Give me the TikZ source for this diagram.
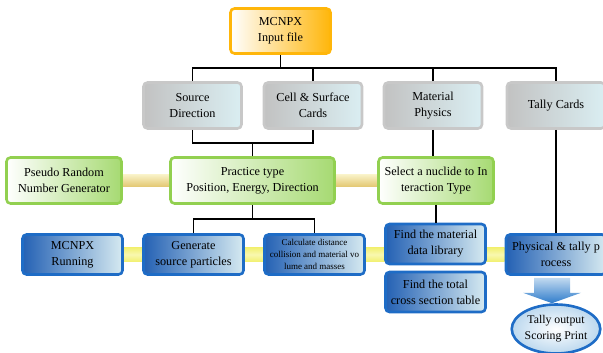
\documentclass[tikz,border=0pt]{standalone}
\usepackage{fontspec}
\setmainfont{Liberation Serif}
\usetikzlibrary{calc,backgrounds,shapes.geometric}
\definecolor{orangeB}{HTML}{FFB60A}
\definecolor{grayB}{HTML}{C8C8C8}
\definecolor{grayL}{HTML}{C2C2C2}
\definecolor{grayR}{HTML}{DAEEF2}
\definecolor{greenB}{HTML}{92D050}
\definecolor{greenR}{HTML}{A6DA72}
\definecolor{blueB}{HTML}{1E6CC6}
\definecolor{blueL}{HTML}{2461B4}
\definecolor{blueR}{HTML}{D6EAF1}
\definecolor{barT}{HTML}{F9F2C8}
\definecolor{barB}{HTML}{E3C872}
\definecolor{ybarT}{HTML}{F2F070}
\definecolor{ybarM}{HTML}{F8F8B0}
\definecolor{arrT}{HTML}{C2DAF0}
\definecolor{arrB}{HTML}{2F7CCB}
\definecolor{ellO}{HTML}{BCD8EE}
\begin{document}
\begin{tikzpicture}[x=1pt,y=-1pt,
  box/.style={rounded corners=4pt, line width=2.6pt, align=center, inner sep=1pt,
    font=\fontsize{12.2}{16}\selectfont, text=black},
  topbox/.style={box, draw=orangeB, left color=white, right color=orangeB,
    minimum width=100pt, minimum height=45pt},
  graybox/.style={box, draw=grayB, left color=grayL, right color=grayR,
    minimum width=98pt, minimum height=46pt},
  greenbox/.style={box, draw=greenB, left color=white, right color=greenR,
    minimum height=46pt},
  bluebox/.style={box, draw=blueB, left color=blueL, right color=blueR,
    minimum width=100pt, minimum height=40pt},
  conn/.style={draw=black, line width=1.2pt}
]
\useasboundingbox (0,0) rectangle (603,353);

% top
\node[topbox] (top) at (280.5,31) {MCNPX\\Input file};

% gray row
\node[graybox] (src)   at (192.5,105.5) {Source\\Direction};
\node[graybox] (cell)  at (313,105.5)   {Cell \& Surface\\Cards};
\node[graybox] (mat)   at (433,105.5)   {Material\\Physics};
\node[graybox] (tally) at (556,105.5)   {Tally Cards};

% green row
\node[greenbox, minimum width=115pt] (pseudo)   at (64,180.5)    {Pseudo Random\\Number Generator};
\node[greenbox, minimum width=164pt] (practice) at (252.5,180.5) {Practice type\\Position, Energy, Direction};
\node[greenbox, minimum width=115pt] (select)   at (436,180.5)   {Select a nuclide to In\\teraction Type};

% blue row
\node[bluebox] (run)  at (72.5,254.5)  {MCNPX\\Running};
\node[bluebox] (gen)  at (193.5,254.5) {Generate\\source particles};
\node[bluebox, font=\fontsize{9}{11.7}\selectfont] (calc) at (314.5,254.5)
  {Calculate distance\\collision and material vo\\lume and masses};
\node[bluebox] (findmat) at (435.5,244) {Find the material\\data library};
\node[bluebox] (findtot) at (435.5,292) {Find the total\\cross section table};
\node[bluebox] (phys) at (556,254.5) {Physical \& tally p\\rocess};

% output ellipse
\node[ellipse, draw=blueB, line width=2.6pt, inner color=white, outer color=ellO,
  minimum width=85pt, minimum height=49pt, inner sep=0pt, align=center,
  font=\fontsize{11.8}{16}\selectfont] (out) at (556,329) {Tally output\\Scoring Print};

% block arrow from phys to out
\shade[top color=arrT, bottom color=arrB]
  ($(phys.south)+(-22,2)$) -- ($(phys.south)+(14,2)$) -- ($(phys.south)+(14,17)$)
  -- ($(phys.south)+(25,17)$) -- ($(out.north)+(-4,0)$) -- ($(phys.south)+(-33,17)$)
  -- ($(phys.south)+(-22,17)$) -- cycle;

% connectors
\draw[conn] (top.south) -- (top.south |- 0,68);
\draw[conn] (src.north) -- (src.north |- 0,68) -| (tally.north);
\draw[conn] (cell.north) -- (cell.north |- 0,68);
\draw[conn] (mat.north) -- (mat.north |- 0,68);
\draw[conn] (src.south) -- (src.south |- 0,143) -| (cell.south);
\draw[conn] (practice.north) -- (practice.north |- 0,143);
\draw[conn] (mat.south) -- (mat.south |- select.north);
\draw[conn] (tally.south) -- (tally.south |- phys.north);
\draw[conn] (practice.south) -- (practice.south |- 0,219);
\draw[conn] (gen.north) -- (gen.north |- 0,219) -| (calc.north);
\draw[conn] (select.south) -- (select.south |- findmat.north);

% bars behind
\begin{scope}[on background layer]
\shade[top color=barT, bottom color=barB] ($(pseudo.east)+(0,-6)$) rectangle ($(select.west)+(0,6)$);
\shade[top color=ybarT, bottom color=ybarT, middle color=ybarM] ($(run.east)+(0,-7)$) rectangle ($(phys.west)+(0,7)$);
\end{scope}
\end{tikzpicture}
\end{document}
